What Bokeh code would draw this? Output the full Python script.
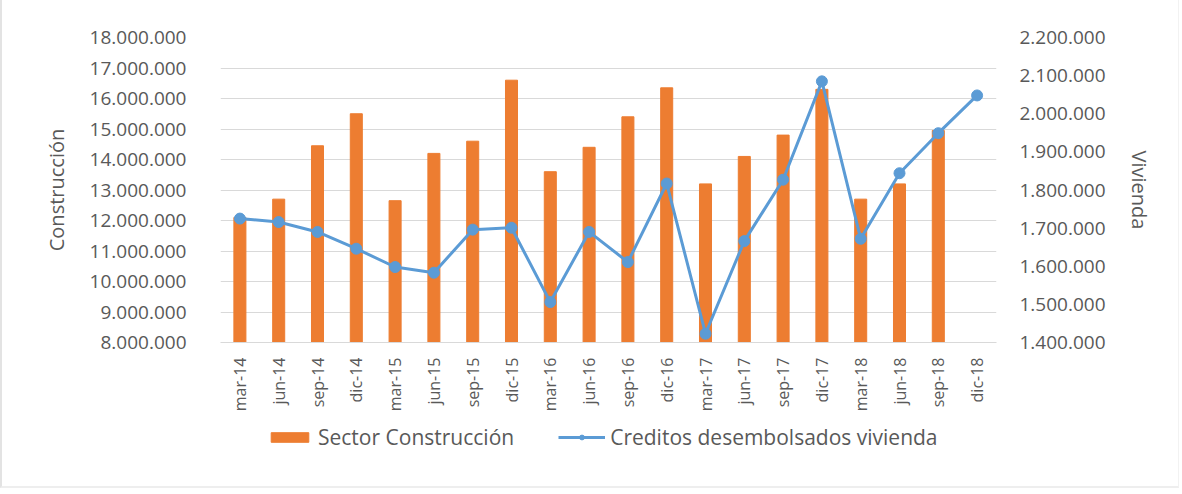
from bokeh.plotting import figure
from bokeh.layouts import column
from bokeh.models import Range1d, LinearAxis, FactorRange, Legend, LegendItem, FixedTicker, CustomJSTickFormatter, ColumnDataSource
from bokeh.embed import file_html
from bokeh.resources import INLINE

categories = ["mar-14", "jun-14", "sep-14", "dic-14", "mar-15", "jun-15", "sep-15", "dic-15",
              "mar-16", "jun-16", "sep-16", "dic-16", "mar-17", "jun-17", "sep-17", "dic-17",
              "mar-18", "jun-18", "sep-18", "dic-18"]
construccion = [12100000, 12700000, 14450000, 15500000, 12650000, 14200000, 14600000, 16600000,
                13600000, 14400000, 15400000, 16350000, 13200000, 14100000, 14800000, 16300000,
                12700000, 13200000, 14950000, None]
vivienda = [1725000, 1716000, 1690000, 1646000, 1598000, 1583000, 1696000, 1701000,
            1506000, 1690000, 1611000, 1817000, 1423000, 1666000, 1827000, 2085000,
            1672000, 1844000, 1949000, 2048000]
left_ticks = [8000000, 9000000, 10000000, 11000000, 12000000, 13000000, 14000000, 15000000,
              16000000, 17000000, 18000000]
right_ticks = [1400000, 1500000, 1600000, 1700000, 1800000, 1900000, 2000000, 2100000, 2200000]

LEFT_MIN, LEFT_MAX = 8000000, 18000000
RIGHT_MIN, RIGHT_MAX = 1400000, 2200000

ORANGE = "#ED7D31"
BLUE = "#5B9BD5"
GRAY = "#595959"
GRID = "#D9D9D9"
FONT = "Open Sans"

bar_cats = [c for c, v in zip(categories, construccion) if v is not None]
bar_vals = [v for v in construccion if v is not None]
bars = ColumnDataSource(dict(x=bar_cats, top=bar_vals, bottom=[LEFT_MIN] * len(bar_vals)))
line = ColumnDataSource(dict(x=categories, y=vivienda))

W = 1176
p = figure(width=W, height=414, output_backend="svg", toolbar_location=None,
           x_range=FactorRange(*categories, range_padding=0),
           y_range=Range1d(LEFT_MIN, LEFT_MAX),
           min_border_left=218, min_border_right=182, min_border_top=37, min_border_bottom=72)
p.extra_y_ranges = {"viv": Range1d(RIGHT_MIN, RIGHT_MAX)}
p.outline_line_color = None
p.background_fill_color = "white"
p.border_fill_color = "white"

fmt_js = """
var s = Math.round(tick).toString();
return s.replace(/\\B(?=(\\d{3})+(?!\\d))/g, '.');
"""

p.vbar(x="x", top="top", bottom="bottom", width=0.31, color=ORANGE, source=bars)
p.line(x="x", y="y", line_color=BLUE, line_width=3, y_range_name="viv", source=line)
p.scatter(x="x", y="y", size=11, color=BLUE, y_range_name="viv", source=line)

ya = p.yaxis[0]
ya.ticker = FixedTicker(ticks=left_ticks)
ya.formatter = CustomJSTickFormatter(code=fmt_js)
ya.axis_label = "Construcción"

ra = LinearAxis(y_range_name="viv", ticker=FixedTicker(ticks=right_ticks),
                formatter=CustomJSTickFormatter(code=fmt_js), axis_label="Vivienda")
p.add_layout(ra, "right")

for ax in [ya, ra]:
    ax.axis_line_color = None
    ax.major_tick_line_color = None
    ax.minor_tick_line_color = None
    ax.major_label_text_font = FONT
    ax.major_label_text_font_size = "19px"
    ax.major_label_text_color = GRAY
    ax.axis_label_text_font = FONT
    ax.axis_label_text_font_size = "20px"
    ax.axis_label_text_color = GRAY
    ax.axis_label_text_font_style = "normal"
ya.major_label_standoff = 28
ya.axis_label_standoff = 17
ra.major_label_standoff = 17
ra.axis_label_standoff = 17

xa = p.xaxis[0]
xa.major_label_orientation = 1.5708
xa.axis_line_color = GRID
xa.major_tick_line_color = None
xa.minor_tick_line_color = None
xa.major_label_text_font = FONT
xa.major_label_text_font_size = "16px"
xa.major_label_text_color = GRAY
xa.major_label_standoff = 9

p.xgrid.grid_line_color = None
p.ygrid.grid_line_color = GRID
p.ygrid.ticker = FixedTicker(ticks=left_ticks)

# legend strip (hidden renderers share the chart's data; only their legend entries show)
lf = figure(width=W, height=72, output_backend="svg", toolbar_location=None,
            x_range=FactorRange(*categories, range_padding=0), y_range=Range1d(0, 1),
            min_border_left=218, min_border_right=182, min_border_top=0, min_border_bottom=0)
lf.axis.visible = False
lf.grid.visible = False
lf.outline_line_color = None
lf.border_fill_color = "white"
lb = lf.vbar(x="x", top="top", bottom="bottom", width=0.3, color=ORANGE, source=bars, visible=False)
ll = lf.line(x="x", y="y", line_color=BLUE, line_width=3, source=line, visible=False)
lc = lf.scatter(x="x", y="y", size=9, color=BLUE, source=line, visible=False)
legend = Legend(items=[LegendItem(label="Sector Construcción", renderers=[lb]),
                       LegendItem(label="Creditos desembolsados vivienda", renderers=[ll, lc])],
                orientation="horizontal", location=(46, 35), margin=0, padding=4,
                label_text_font=FONT, label_text_font_size="21px", label_text_color=GRAY,
                background_fill_alpha=0, border_line_color=None, glyph_width=47, glyph_height=12,
                spacing=44, label_standoff=5, inactive_fill_alpha=0, click_policy="none")
lf.add_layout(legend, "center")

layout = column(p, lf, spacing=0)
layout.styles = {"border-left": "2px solid #E3E3E3", "border-bottom": "2px solid #EEEEEE",
                 "border-right": "1px solid #F2F2F2"}

open("out.html", "w").write(file_html(layout, INLINE))
